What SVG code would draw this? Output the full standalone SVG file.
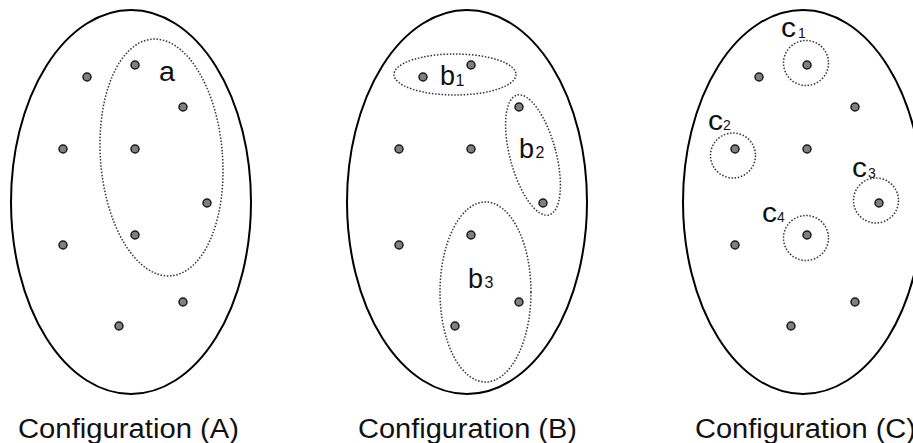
<svg xmlns="http://www.w3.org/2000/svg" width="913" height="443" viewBox="0 0 913 443">
<defs>
<style>
.outer{fill:none;stroke:#000;stroke-width:2}
.grp{fill:none;stroke:#333;stroke-width:1.5;stroke-dasharray:1.5 1.7}
.pt{fill:#7f7f7f;stroke:#1a1a1a;stroke-width:1.5}
.lbl{font-family:"Liberation Sans",Arial,sans-serif;font-size:27px;fill:#111}
.sub{font-family:"Liberation Sans",Arial,sans-serif;font-size:16px;fill:#111}
.subc{font-family:"Liberation Sans",Arial,sans-serif;font-size:14px;fill:#111}
.cap{font-family:"Liberation Sans",Arial,sans-serif;font-size:27px;fill:#111}
</style>
<g id="pts">
<circle class="pt" cx="87" cy="77" r="4"/>
<circle class="pt" cx="135" cy="65" r="4"/>
<circle class="pt" cx="183" cy="107" r="4"/>
<circle class="pt" cx="63" cy="149" r="4"/>
<circle class="pt" cx="135" cy="149" r="4"/>
<circle class="pt" cx="207" cy="203" r="4"/>
<circle class="pt" cx="135" cy="235" r="4"/>
<circle class="pt" cx="63" cy="245" r="4"/>
<circle class="pt" cx="183" cy="302" r="4"/>
<circle class="pt" cx="119" cy="326" r="4"/>
</g>
</defs>
<rect width="913" height="443" fill="#fff"/>

<g id="configA">
<ellipse class="outer" cx="131" cy="202" rx="120" ry="192"/>
<use href="#pts"/>
<ellipse class="grp" cx="161.5" cy="157.5" rx="61" ry="118.7" transform="rotate(-4.5 161.5 157.5)"/>
<text class="lbl" x="159" y="81" textLength="16" lengthAdjust="spacingAndGlyphs">a</text>
<text class="cap" x="18" y="438" textLength="221" lengthAdjust="spacingAndGlyphs">Configuration (A)</text>
</g>

<g id="configB">
<ellipse class="outer" cx="467" cy="202" rx="120" ry="192"/>
<use href="#pts" transform="translate(336 0)"/>
<ellipse class="grp" cx="455" cy="74.5" rx="61" ry="20.5"/>
<ellipse class="grp" cx="533" cy="155" rx="23" ry="62" transform="rotate(-15 533 155)"/>
<ellipse class="grp" cx="485.5" cy="292" rx="45.5" ry="90"/>
<text class="lbl" x="440" y="85">b</text><text class="sub" x="455.5" y="86">1</text>
<text class="lbl" x="519" y="158">b</text><text class="sub" x="535.5" y="158">2</text>
<text class="lbl" x="468" y="288">b</text><text class="sub" x="484.5" y="288">3</text>
<text class="cap" x="358" y="438" textLength="219" lengthAdjust="spacingAndGlyphs">Configuration (B)</text>
</g>

<g id="configC">
<ellipse class="outer" cx="803" cy="202" rx="120" ry="192"/>
<use href="#pts" transform="translate(672 0)"/>
<circle class="grp" cx="806" cy="63" r="22.5"/>
<circle class="grp" cx="733" cy="155.5" r="22.5"/>
<circle class="grp" cx="876" cy="200.5" r="22.5"/>
<circle class="grp" cx="806" cy="238" r="22.5"/>
<text class="lbl" x="781" y="37" textLength="15" lengthAdjust="spacingAndGlyphs">c</text><text class="subc" x="798" y="38">1</text>
<text class="lbl" x="708" y="130" textLength="15" lengthAdjust="spacingAndGlyphs">c</text><text class="subc" x="723" y="130">2</text>
<text class="lbl" x="852" y="177" textLength="15" lengthAdjust="spacingAndGlyphs">c</text><text class="subc" x="868" y="178">3</text>
<text class="lbl" x="762" y="222" textLength="15" lengthAdjust="spacingAndGlyphs">c</text><text class="subc" x="777" y="222">4</text>
<text class="cap" x="695" y="438" textLength="221" lengthAdjust="spacingAndGlyphs">Configuration (C)</text>
</g>
</svg>
